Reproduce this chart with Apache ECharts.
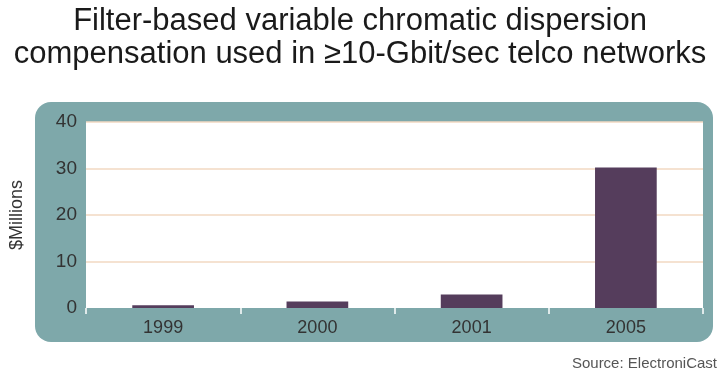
<!DOCTYPE html>
<html><head><meta charset="utf-8">
<script src="https://cdn.jsdelivr.net/npm/echarts@6/dist/echarts.min.js"></script>
<style>html,body{margin:0;padding:0;background:#fff}#c{width:720px;height:379px}</style>
</head><body><div id="c"></div>
<script>
const titleLines = ['Filter-based variable chromatic dispersion', 'compensation used in \u226510-Gbit/sec telco networks'];
const categories = ['1999', '2000', '2001', '2005'];
const values = [0.6, 1.4, 2.9, 30.2];
const yTicks = [0, 10, 20, 30, 40];
const yName = '$Millions';
const source = 'Source: ElectroniCast';

const chart = echarts.init(document.getElementById('c'), null, {renderer: 'canvas'});
chart.setOption({
  animation: false,
  backgroundColor: '#ffffff',
  title: {
    text: titleLines.join('\n'),
    left: 'center', top: 0,
    textStyle: {fontFamily: 'Liberation Sans', fontWeight: 'normal', fontSize: 31, lineHeight: 33, color: '#1a1a1a'}
  },
  graphic: [
    {type: 'rect', z: -10, shape: {x: 35, y: 102, width: 678, height: 240, r: 16}, style: {fill: '#7ea8aa'}},
    {type: 'text', right: 3, top: 356, style: {text: source, fontFamily: 'Liberation Sans', fontSize: 15, fill: '#555'}}
  ],
  grid: {left: 82, right: 17, top: 122, bottom: 71, show: true, backgroundColor: '#ffffff', borderWidth: 0},
  xAxis: {
    type: 'category', data: categories,
    axisLine: {show: false},
    axisTick: {show: true, inside: false, length: 6, lineStyle: {color: '#ffffff', width: 1.5}},
    axisLabel: {fontFamily: 'Liberation Sans', fontSize: 18, color: '#333', margin: 11}
  },
  yAxis: {
    type: 'value', min: yTicks[0], max: yTicks[yTicks.length - 1], interval: 10,
    name: yName, nameLocation: 'middle', nameGap: 60, nameRotate: 90,
    nameTextStyle: {fontFamily: 'Liberation Sans', fontSize: 18, color: '#333'},
    axisLine: {show: false}, axisTick: {show: false},
    axisLabel: {fontFamily: 'Liberation Sans', fontSize: 19, color: '#333', margin: 9},
    splitLine: {showMinLine: false, lineStyle: {color: '#f2d8c2', width: 1.5}}
  },
  series: [{
    type: 'bar', data: values, barWidth: '40%',
    itemStyle: {color: '#553d5c'}
  }]
});
</script></body></html>
